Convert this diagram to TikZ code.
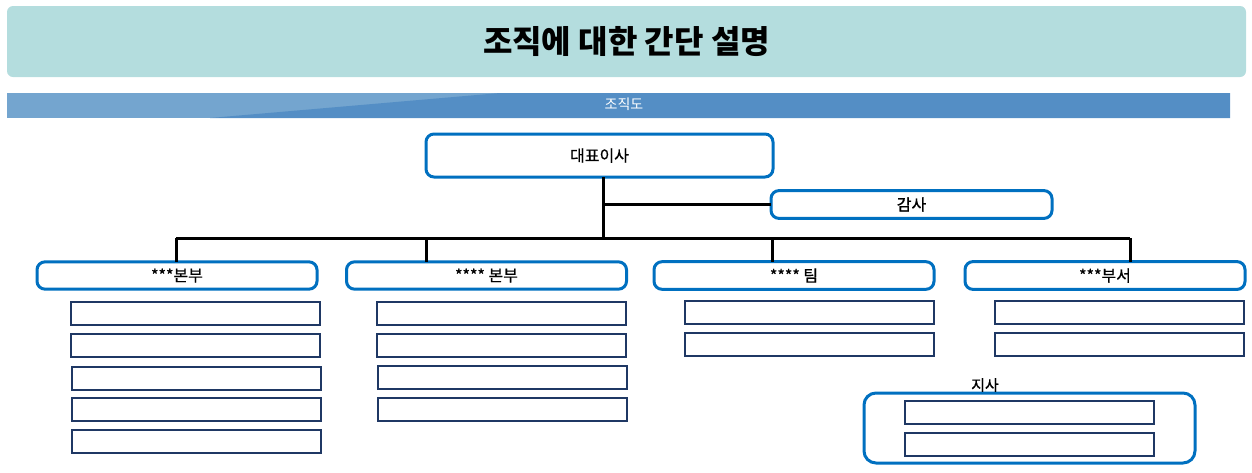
\documentclass[tikz,border=0pt]{standalone}
\usepackage{fontspec}
\setmainfont{Noto Sans CJK KR}
\newfontfamily\krlabel[FakeBold=0.8]{Noto Sans CJK KR}
\definecolor{titlefill}{HTML}{B4DDDE}
\definecolor{barlight}{HTML}{74A5CF}
\definecolor{bardark}{HTML}{548EC5}
\definecolor{boxblue}{HTML}{0070C0}
\definecolor{boxnavy}{HTML}{1F3864}
\begin{document}
\begin{tikzpicture}[x=0.5pt,y=-0.5pt,
		head/.style={rectangle,rounded corners=4pt,draw=boxblue,line width=1.5pt,fill=white,outer sep=0pt,font=\krlabel\fontsize{8}{9}\selectfont},
		unit/.style={head,minimum width=140pt,minimum height=13.5pt},
		sub/.style={rectangle,draw=boxnavy,line width=1pt,fill=white,outer sep=0pt,minimum width=124.5pt,minimum height=11.5pt},
		link/.style={line width=1.5pt,black}]
		\useasboundingbox (0,0) rectangle (1252,472);
		% title and bar
		\node [rectangle,rounded corners=3pt,fill=titlefill,minimum width=619.5pt,minimum height=35.5pt,font=\fontsize{16}{18}\selectfont\bfseries] (title) at (626.5,41.5) {조직에 대한 간단 설명};
		\fill [barlight] (7,93) rectangle (1230,118);
		\fill [bardark] (210,118) -- (500,93) -- (1230,93) -- (1230,118) -- cycle;
		\node [text=white,font=\fontsize{7}{8}\selectfont] (bar) at (624,104.5) {조직도};
		% top level
		\node [head,minimum width=173.5pt,minimum height=21.5pt] (0) at (599.5,155.5) {대표이사};
		\node [head,minimum width=140.5pt,minimum height=13.5pt] (5) at (911.5,204.5) {감사};
		\node [unit] (1) at (177,275.5) {***본부};
		\node [unit] (2) at (486.5,275.5) {**** 본부};
		\node [unit] (3) at (794,275.5) {**** 팀};
		\node [unit] (4) at (1105,275.5) {***부서};
		% bus
		\coordinate (j0) at (603,239);
		\coordinate (j1) at (176,238);
		\coordinate (j2) at (426,238);
		\coordinate (j3) at (772,238);
		\coordinate (j4) at (1130,238);
		\draw [link] (0.south -| j0) -- (j0);
		\draw [link] (j0 |- 5.west) -- (5.west);
		\draw [link] (j1) -- (j4);
		\draw [link] (j1) -- (j1 |- 1.north);
		\draw [link] (j2) -- (j2 |- 2.north);
		\draw [link] (j3) -- (j3 |- 3.north);
		\draw [link] (j4) -- (j4 |- 4.north);
		% sub boxes
		\node [sub] (11) at (195,313.5) {};
		\node [sub] (12) at (195,345.5) {};
		\node [sub] (13) at (196.5,378) {};
		\node [sub] (14) at (196.5,409.5) {};
		\node [sub] (15) at (196.5,441) {};
		\node [sub] (21) at (501,313.5) {};
		\node [sub] (22) at (501,345.5) {};
		\node [sub] (23) at (502,377.5) {};
		\node [sub] (24) at (502,409.5) {};
		\node [sub] (31) at (809.5,312.5) {};
		\node [sub] (32) at (809.5,344.5) {};
		\node [sub] (41) at (1119.5,312.5) {};
		\node [sub] (42) at (1119.5,344.5) {};
		% branch office
		\node [head,rounded corners=6pt,minimum width=165.5pt,minimum height=35pt] (6) at (1029.5,428) {};
		\node [font=\krlabel\fontsize{7.5}{8}\selectfont] (6l) at (985,385) {지사};
		\node [sub] (61) at (1029,412.5) {};
		\node [sub] (62) at (1029,444.5) {};
	\end{tikzpicture}
\end{document}
